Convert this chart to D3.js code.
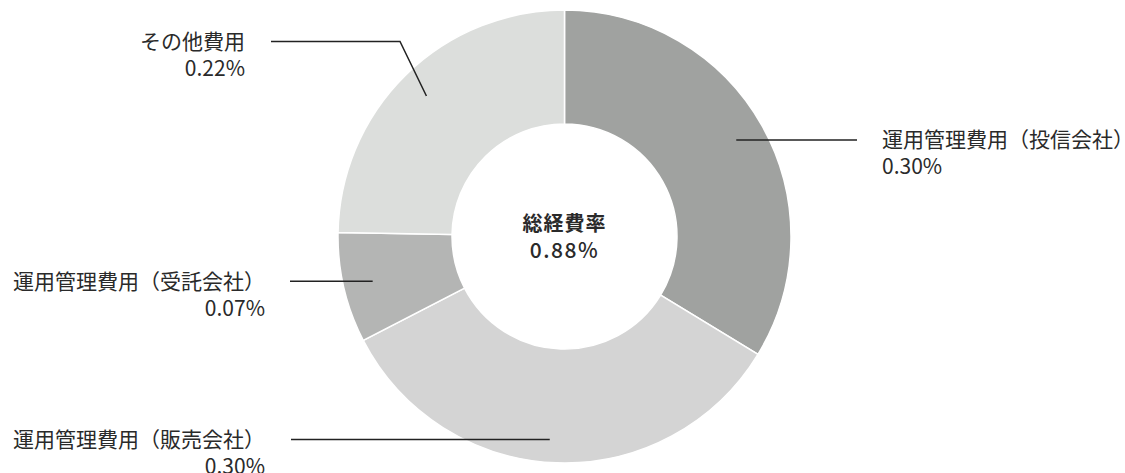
<!DOCTYPE html>
<html>
<head>
<meta charset="utf-8">
<script src="https://cdn.jsdelivr.net/npm/d3@7"></script>
<style>
  body { margin: 0; background: #fff; }
  text { font-family: "Noto Sans CJK JP", "Noto Sans", sans-serif; fill: #2a2a2a; }
</style>
</head>
<body>
<div class="cost-plot"></div>
<script>
// data
const categories = ['運用管理費用（投信会社）', '運用管理費用（販売会社）', '運用管理費用（受託会社）', 'その他費用'];
const values = [0.30, 0.30, 0.07, 0.22];
const valueLabels = ['0.30%', '0.30%', '0.07%', '0.22%'];
const colors = ['#a0a2a0', '#d4d4d4', '#b4b5b4', '#dcdedc'];
const totalTitle = '総経費率';
const totalLabel = '0.88%';

// where each label sits (side, end of leader line, optional elbow)
const labelLayout = [
  {side: 'right', lineEnd: 857, textX: 882},
  {side: 'left', lineEnd: 291, textX: 265, dy: 6},
  {side: 'left', lineEnd: 290, textX: 265},
  {side: 'left', lineEnd: 271, textX: 245, elbowX: 400, lineY: 41.5}
];

const width = 1125;
const height = 473;
const cx = 564.5, cy = 236.5;
const outerR = 226.5, innerR = 112.5;

const svg = d3.select('.cost-plot')
    .append('svg')
    .attr('width', width)
    .attr('height', height);

const g = svg.append('g').attr('transform', `translate(${cx},${cy})`);

const pie = d3.pie().sort(null).value(d => d);
const arcs = pie(values);

const arc = d3.arc().innerRadius(innerR).outerRadius(outerR);
const pointArc = d3.arc().innerRadius(197).outerRadius(197);

//slices
g.selectAll('path.slice')
    .data(arcs)
    .enter()
    .append('path')
    .attr('class', 'slice')
    .attr('d', arc)
    .attr('fill', (d, i) => colors[i])
    .attr('stroke', '#fff')
    .attr('stroke-width', 1.5);

//leader lines + labels
arcs.forEach((d, i) => {
    const lay = labelLayout[i];
    const p = pointArc.centroid(d);
    const py = p[1] + cy + (lay.dy || 0);
    const ly = lay.lineY !== undefined ? lay.lineY : py;
    // shifted start keeps the leader straight
    const pts = [[p[0] + cx - (lay.dy || 0) * 1.3, py]];
    if (lay.elbowX !== undefined) pts.push([lay.elbowX, ly]);
    pts.push([lay.lineEnd, ly]);

    svg.append('path')
        .attr('d', d3.line()(pts))
        .attr('fill', 'none')
        .attr('stroke', '#222')
        .attr('stroke-width', 1.5);

    const t = svg.append('text')
        .attr('x', lay.textX)
        .attr('y', ly)
        .attr('text-anchor', lay.side === 'right' ? 'start' : 'end')
        .attr('font-size', 21)
        .attr('font-weight', 400);
    t.append('tspan')
        .attr('x', lay.textX)
        .attr('dy', '0.35em')
        .text(categories[i]);
    t.append('tspan')
        .attr('x', lay.textX)
        .attr('dy', 27)
        .text(valueLabels[i]);
});

//total in the hole
svg.append('text')
    .attr('x', cx)
    .attr('y', 224)
    .attr('dy', '0.35em')
    .attr('text-anchor', 'middle')
    .attr('font-size', 20)
    .attr('font-weight', 'bold')
    .attr('letter-spacing', 1)
    .text(totalTitle);

svg.append('text')
    .attr('x', cx)
    .attr('y', 251)
    .attr('dy', '0.35em')
    .attr('text-anchor', 'middle')
    .attr('font-size', 21)
    .attr('font-weight', 500)
    .attr('letter-spacing', 1.5)
    .text(totalLabel);
</script>
</body>
</html>
